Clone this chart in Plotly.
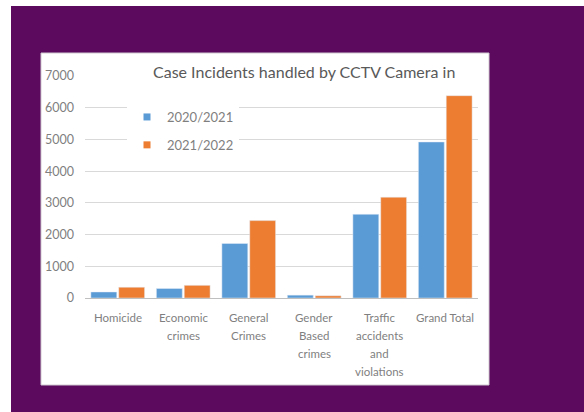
import plotly.graph_objects as go

# Case incidents by category, two reporting years
categories = ["Homicide", "Economic crimes", "General Crimes", "Gender Based crimes",
              "Traffic accidents and violations", "Grand Total"]
label_lines = [["Homicide"], ["Economic", "crimes"], ["General", "Crimes"],
               ["Gender", "Based", "crimes"], ["Traffic", "accidents", "and", "violations"],
               ["Grand Total"]]
series_names = ["2020/2021", "2021/2022"]
values_2020_2021 = [190, 300, 1720, 90, 2640, 4920]
values_2021_2022 = [340, 400, 2440, 70, 3180, 6380]
y_ticks = [0, 1000, 2000, 3000, 4000, 5000, 6000, 7000]

BLUE = "#5B9BD5"
ORANGE = "#ED7D31"
PURPLE = "#5B0A5E"
GREY = "#7F7F7F"
FONT = "Lato"

W, H = 584, 412
L, R, T, B = 85, 478, 76, 298  # plot area in pixels


def px_x(p):
    return (p - L) / (R - L)


def px_y(p):
    return (B - p) / (B - T)


fig = go.Figure()
for name, vals, col in [(series_names[0], values_2020_2021, BLUE),
                        (series_names[1], values_2021_2022, ORANGE)]:
    fig.add_trace(go.Bar(x=categories, y=vals, name=name, marker_color=col,
                         showlegend=False))
    # small square legend keys
    fig.add_trace(go.Scatter(x=[None], y=[None], mode="markers", name=name,
                             legendgroup=name,
                             marker=dict(symbol="square", size=7, color=col)))

# multi-line category labels under the axis
for cat, lines in zip(categories, label_lines):
    for j, line in enumerate(lines):
        fig.add_annotation(x=cat, xref="x", y=0, yref="y", text=line,
                           showarrow=False, yanchor="middle", yshift=-19 - 18 * j,
                           font=dict(family=FONT, size=11.5, color=GREY))

fig.add_annotation(x=px_x(304), y=px_y(72), xref="paper", yref="paper",
                   text="Case Incidents handled by CCTV Camera in", showarrow=False,
                   xanchor="center", yanchor="middle", bgcolor="white",
                   font=dict(family=FONT, size=16, color="#595959"))

# purple frame and white chart panel
fig.add_shape(type="rect", xref="paper", yref="paper", layer="below",
              x0=px_x(11), x1=px_x(W + 5), y0=px_y(6), y1=px_y(H + 5),
              fillcolor=PURPLE, line_width=0)
fig.add_shape(type="rect", xref="paper", yref="paper", layer="below",
              x0=px_x(41), x1=px_x(489), y0=px_y(53), y1=px_y(385),
              fillcolor="white", line=dict(color="#d0c8d0", width=1))

fig.update_layout(
    width=W, height=H,
    margin=dict(l=L, r=W - R, t=T, b=H - B),
    paper_bgcolor="white", plot_bgcolor="white",
    barmode="group", bargap=0.15, bargroupgap=0.07,
    font=dict(family=FONT, color=GREY),
    legend=dict(x=px_x(127), y=px_y(102), xanchor="left", yanchor="top",
                bgcolor="white", font=dict(family=FONT, size=13, color=GREY),
                tracegroupgap=8, itemwidth=30),
    xaxis=dict(showticklabels=False, showline=True, linecolor="#bfbfbf",
               linewidth=1, showgrid=False, ticks=""),
    yaxis=dict(range=[0, 7000], tickvals=y_ticks, showgrid=True, gridcolor="#d9d9d9",
               zeroline=False, showline=False, ticks="", ticklabelstandoff=10,
               tickfont=dict(family=FONT, size=12.5, color=GREY)),
)

fig.write_html("out.html")
